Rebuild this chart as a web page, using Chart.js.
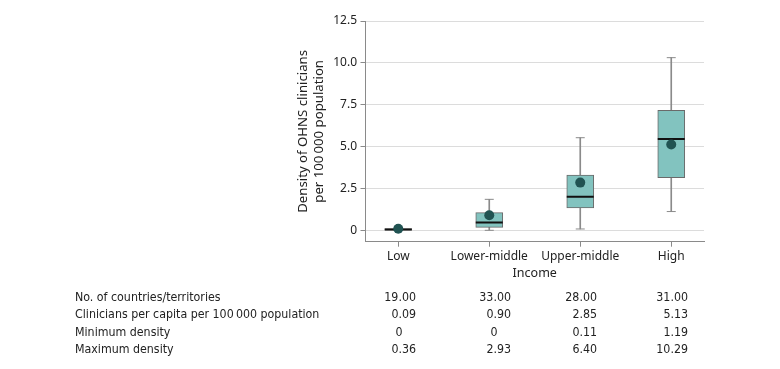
<!DOCTYPE html>
<html lang="en">
<head>
    <meta charset="UTF-8">
    <title>OHNS clinician density by income</title>
    <script src="https://cdn.jsdelivr.net/npm/chart.js"></script>
    <style>
        body { margin: 0; background: #fff; }
        .wrap { position: relative; width: 780px; height: 369px; }
        canvas { position: absolute; left: 0; top: 0; }
        .tbl { position: absolute; font-family: "Liberation Sans Narrow", "DejaVu Sans Condensed", sans-serif;
               font-size: 12.3px; color: #222; line-height: 16px; white-space: nowrap; }
        .cell { width: 34px; }
    </style>
</head>
<body>
    <div class="wrap" id="wrap">
        <canvas id="chart" width="780" height="290"></canvas>
    </div>
    <script>
        // values
        const categories = ['Low', 'Lower-middle', 'Upper-middle', 'High'];
        const whiskerLow = [0, 0, 0.08, 1.12];
        const q1 = [0.01, 0.18, 1.33, 3.14];
        const median = [0.05, 0.47, 2.0, 5.45];
        const q3 = [0.1, 1.06, 3.3, 7.16];
        const whiskerHigh = [0.12, 1.85, 5.53, 10.31];
        const means = [0.09, 0.90, 2.85, 5.13];
        const yTicks = [0, 2.5, 5, 7.5, 10, 12.5];

        // table under the chart
        const rowLabels = ['No. of countries/territories', 'Clinicians per capita per 100\u2009000 population',
            'Minimum density', 'Maximum density'];
        const nCountries = [19, 33, 28, 31];
        const perCapita = [0.09, 0.90, 2.85, 5.13];
        const minDensity = [0, 0, 0.11, 1.19];
        const maxDensity = [0.36, 2.93, 6.40, 10.29];

        const grey = '#8a8a8a';

        const at = (arr) => arr.map((v, i) => ({ x: i, y: v }));

        new Chart(document.getElementById('chart'), {
            type: 'bar',
            data: {
                datasets: [
                    {   // means
                        type: 'scatter',
                        data: at(means),
                        backgroundColor: '#215352',
                        borderColor: '#215352',
                        pointRadius: 5,
                        pointBorderWidth: 0
                    },
                    {   // medians
                        type: 'scatter',
                        data: at(median),
                        pointStyle: 'line',
                        pointRadius: 13.5,
                        borderColor: '#111',
                        pointBorderWidth: 2
                    },
                    {   // boxes
                        data: categories.map((c, i) => ({ x: i, y: [q1[i], q3[i]] })),
                        backgroundColor: '#82c3bf',
                        borderColor: '#6a6a6a',
                        borderWidth: 1,
                        borderSkipped: false,
                        barThickness: 27,
                        grouped: false
                    },
                    {   // whisker caps
                        type: 'scatter',
                        data: at(whiskerLow).concat(at(whiskerHigh)),
                        pointStyle: 'line',
                        pointRadius: 4.5,
                        borderColor: grey,
                        pointBorderWidth: 1
                    },
                    {   // whisker stems
                        data: categories.map((c, i) => ({ x: i, y: [whiskerLow[i], whiskerHigh[i]] })),
                        backgroundColor: grey,
                        borderWidth: 0,
                        barThickness: 1,
                        grouped: false
                    }
                ]
            },
            options: {
                responsive: false,
                animation: false,
                layout: { padding: { left: 295, right: 76, top: 21, bottom: 0 } },
                plugins: { legend: { display: false }, tooltip: { enabled: false } },
                scales: {
                    x: {
                        type: 'linear',
                        min: -0.36,
                        max: 3.36,
                        offset: false,
                        afterBuildTicks: (s) => { s.ticks = categories.map((c, i) => ({ value: i })); },
                        afterFit: (s) => { s.height = 48.3; },
                        ticks: {
                            callback: (v) => categories[v],
                            color: '#222',
                            font: { family: 'Noto Sans', size: 12 },
                            padding: 3
                        },
                        grid: { offset: false, drawOnChartArea: false, drawTicks: true, tickLength: 5, tickColor: grey },
                        border: { color: grey, width: 1 },
                        title: {
                            display: true, text: 'Income', color: '#222',
                            font: { family: 'Noto Sans', size: 12.5 },
                            padding: { top: 0, bottom: 9.5 }
                        }
                    },
                    y: {
                        min: -0.68,
                        max: 12.5,
                        afterBuildTicks: (s) => { s.ticks = yTicks.map(v => ({ value: v })); },
                        afterFit: (s) => { s.width = 70.5; },
                        ticks: {
                            callback: (v) => v === 0 ? '0' : v.toFixed(1),
                            color: '#222',
                            font: { family: 'Noto Sans', size: 12 },
                            padding: 3.5
                        },
                        grid: { color: '#dcdcdc', tickColor: grey, tickLength: 5, lineWidth: 1 },
                        border: { color: grey, width: 1 },
                        title: {
                            display: true,
                            text: ['Density of OHNS clinicians', 'per 100\u2009000 population'],
                            color: '#222',
                            font: { family: 'Noto Sans', size: 13.2, lineHeight: 1.21 },
                            padding: { top: 0, bottom: 0 }
                        }
                    }
                }
            }
        });

        // table
        const wrap = document.getElementById('wrap');
        const rowCenters = [297, 314, 332, 349];
        const colRight = [416, 511, 597, 688];
        const rows = [nCountries, perCapita, minDensity, maxDensity];

        function addText(txt, left, top, cls, align) {
            const d = document.createElement('div');
            d.className = cls;
            d.textContent = txt;
            d.style.left = left + 'px';
            d.style.top = top + 'px';
            if (align) d.style.textAlign = align;
            wrap.appendChild(d);
        }

        rows.forEach((vals, r) => {
            const top = rowCenters[r] - 8;
            addText(rowLabels[r], 75, top, 'tbl');
            vals.forEach((v, c) => {
                const txt = v === 0 ? '0' : v.toFixed(2);
                addText(txt, colRight[c] - 34, top, 'tbl cell', v === 0 ? 'center' : 'right');
            });
        });
    </script>
</body>
</html>
